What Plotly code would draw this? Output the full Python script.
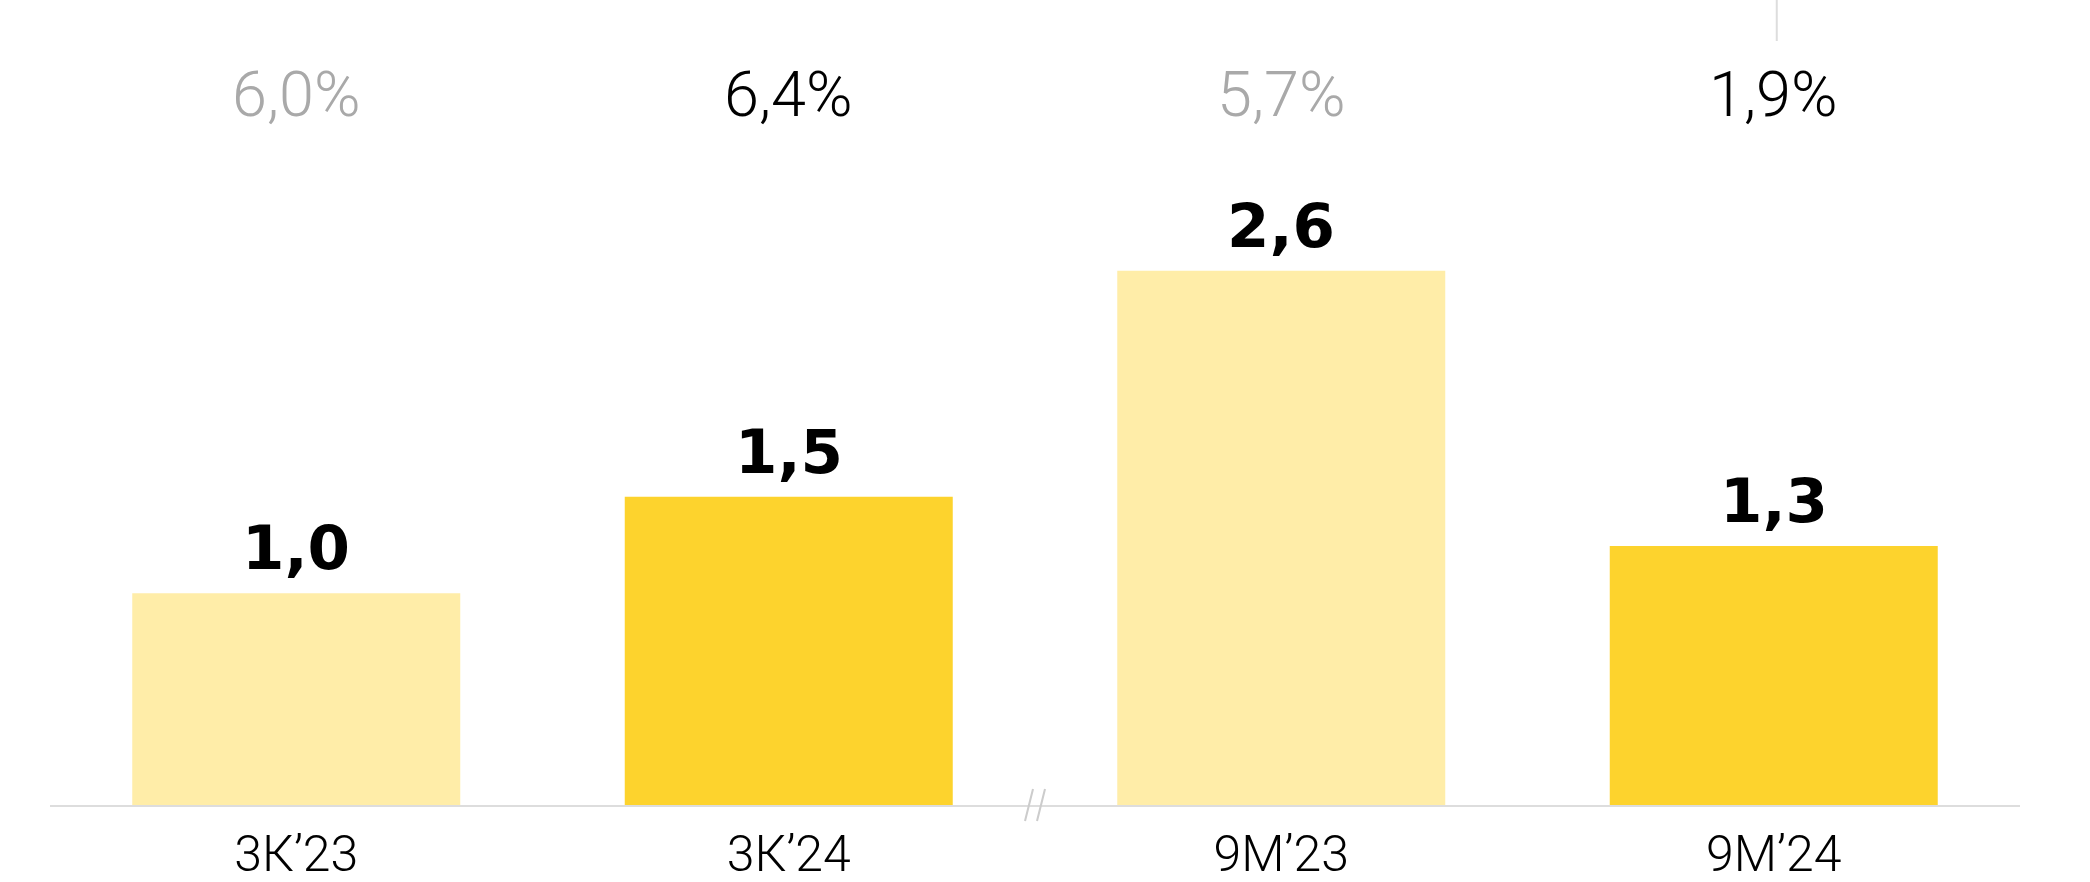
import plotly.graph_objects as go

categories = ["3К’23", "3К’24", "9М’23", "9М’24"]
values = [1.03, 1.5, 2.6, 1.26]
value_labels = ["1,0", "1,5", "2,6", "1,3"]
pct_labels = ["6,0%", "6,4%", "5,7%", "1,9%"]
is_current = [False, True, False, True]

LIGHT = "#FFEDA8"
DARK = "#FDD32D"
GREY_TXT = "#A9A9A9"
LINE = "#DDDDDD"

x = list(range(len(categories)))
colors = [DARK if c else LIGHT for c in is_current]

fig = go.Figure()
fig.add_trace(go.Bar(x=x, y=values, marker=dict(color=colors, line=dict(width=0)),
                     hoverinfo="skip", showlegend=False))

annotations = []
for i, (v, lab) in enumerate(zip(values, value_labels)):
    annotations.append(dict(x=i, y=v, xref="x", yref="y", text=lab, showarrow=False,
                            yanchor="bottom", xanchor="center", yshift=8,
                            font=dict(family="DejaVu Sans", size=61, color="#000000", weight="bold")))
for i, (lab, cur) in enumerate(zip(pct_labels, is_current)):
    annotations.append(dict(x=i, y=0.882, xref="x", yref="paper", text=lab, showarrow=False,
                            yanchor="middle", xanchor="center",
                            font=dict(family="Roboto", size=63, weight=300,
                                      color="#000000" if cur else GREY_TXT)))

shapes = []
# axis break marks between the quarter and nine-month groups
for off in (-6, 6):
    shapes.append(dict(type="line", xref="x", yref="paper", xsizemode="pixel", ysizemode="pixel",
                       xanchor=1.5, yanchor=0, x0=off - 4, x1=off + 4, y0=-16, y1=16,
                       line=dict(color="#CCCCCC", width=2)))
# small vertical stub at top
shapes.append(dict(type="line", xref="x", yref="paper", xsizemode="pixel", ysizemode="pixel",
                   xanchor=3, yanchor=1, x0=3, x1=3, y0=0, y1=-41,
                   line=dict(color=LINE, width=2)))

fig.update_layout(
    width=2090, height=882,
    margin=dict(l=50, r=70, t=0, b=77),
    paper_bgcolor="white", plot_bgcolor="white",
    bargap=0.334,
    xaxis=dict(range=[-0.5, 3.5], tickvals=x, ticktext=categories, showgrid=False,
               zeroline=False, showline=True, linecolor=LINE, linewidth=2, ticks="",
               ticklabelstandoff=4,
               tickfont=dict(family="Roboto", size=50, color="#000000", weight=300),
               automargin=False, fixedrange=True),
    yaxis=dict(range=[0, 3.917], visible=False, showgrid=False, zeroline=False,
               automargin=False, fixedrange=True),
    annotations=annotations, shapes=shapes,
)

fig.write_html("out.html", config={"displayModeBar": False},
               post_script="document.body.style.margin='0';document.body.style.overflow='hidden';")
